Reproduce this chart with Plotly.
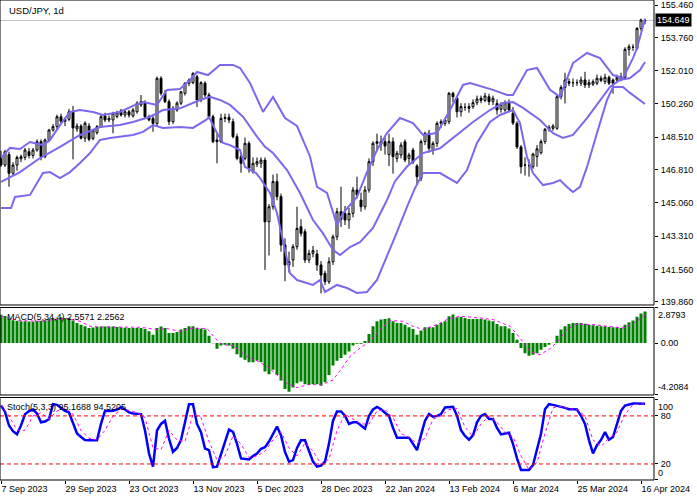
import plotly.graph_objects as go
from plotly.subplots import make_subplots

# ---------------- data ----------------
open_ = [147.45, 147.05, 147.60, 146.62, 147.05, 147.38, 147.45, 147.75, 147.55, 147.84,
 148.28, 147.49, 148.37, 148.89, 149.07, 149.59, 149.35, 149.45, 149.85, 148.95,
 149.10, 148.46, 149.10, 148.45, 148.75, 149.07, 149.63, 149.42, 149.42, 149.60,
 149.91, 149.68, 149.85, 149.63, 149.85, 150.21, 150.30, 149.59, 149.50, 149.24,
 151.61, 150.82, 150.38, 149.33, 149.94, 150.30, 150.82, 151.35, 151.38, 151.69,
 150.47, 151.35, 150.73, 149.59, 148.37, 148.28, 149.50, 149.56, 149.33, 148.54,
 147.49, 147.40, 148.19, 146.70, 147.10, 147.14, 147.31, 144.07, 144.86, 146.18,
 145.39, 142.85, 141.80, 142.06, 142.76, 143.81, 143.55, 142.06, 142.41, 142.38,
 141.80, 141.36, 140.92, 141.97, 143.28, 144.60, 144.50, 144.16, 144.51, 145.74,
 145.21, 144.86, 145.74, 147.23, 148.19, 148.28, 148.28, 147.60, 148.28, 147.40,
 147.58, 148.28, 147.40, 147.84, 147.00, 146.35, 148.28, 148.72, 147.84, 148.19,
 149.24, 149.24, 149.33, 150.82, 150.56, 149.85, 150.08, 150.03, 150.12, 150.33,
 150.56, 150.45, 150.64, 150.38, 150.29, 149.98, 149.94, 150.33, 149.77, 149.24,
 148.00, 147.05, 147.02, 146.96, 147.50, 147.70, 148.28, 148.93, 148.98, 148.98,
 150.64, 151.13, 151.43, 151.38, 151.38, 151.35, 151.52, 151.26, 151.30, 151.35,
 151.61, 151.43, 151.66, 151.52, 151.52, 151.56, 151.66, 153.13, 153.24, 153.18,
 154.23, 154.62]
high_ = [147.80, 147.85, 147.75, 147.20, 147.55, 147.60, 147.95, 147.95, 147.95, 148.40,
 148.40, 148.45, 148.95, 149.20, 149.70, 149.75, 149.55, 150.00, 150.16, 149.25,
 149.20, 149.35, 149.25, 148.95, 149.15, 149.70, 149.80, 149.65, 149.85, 149.90,
 150.00, 149.95, 149.95, 150.05, 150.40, 150.73, 150.45, 149.70, 149.65, 151.70,
 151.72, 151.00, 150.50, 150.15, 150.40, 150.95, 151.40, 151.60, 151.92, 151.80,
 151.45, 151.45, 150.85, 149.70, 148.70, 149.75, 149.75, 149.75, 149.50, 148.70,
 147.70, 148.50, 148.30, 147.45, 147.45, 147.45, 147.45, 145.00, 146.55, 146.60,
 145.55, 143.20, 142.50, 142.90, 144.86, 144.20, 143.70, 142.60, 142.80, 142.60,
 142.00, 141.50, 142.20, 143.40, 144.80, 145.91, 144.90, 144.80, 145.90, 146.44,
 145.60, 145.95, 147.40, 148.30, 148.70, 148.60, 148.60, 148.70, 148.50, 147.80,
 148.25, 148.40, 147.70, 147.95, 147.10, 148.40, 148.80, 148.90, 148.30, 149.35,
 149.45, 149.50, 150.89, 150.90, 150.65, 150.30, 150.30, 150.30, 150.50, 150.70,
 150.70, 150.85, 150.80, 150.70, 150.50, 150.35, 150.45, 150.50, 150.10, 149.35,
 148.10, 147.45, 147.35, 147.70, 148.10, 148.40, 149.00, 149.15, 149.20, 150.75,
 151.25, 151.90, 151.60, 151.60, 151.55, 151.70, 151.95, 151.55, 151.55, 151.80,
 151.75, 151.85, 151.75, 151.60, 151.80, 151.90, 153.24, 153.40, 153.40, 154.30,
 154.75, 154.72]
low_ = [146.95, 146.95, 145.91, 146.50, 146.75, 147.20, 147.30, 147.40, 147.40, 147.75,
 147.30, 147.40, 148.25, 148.80, 148.95, 149.20, 149.10, 149.35, 147.35, 148.80,
 148.40, 148.26, 148.30, 148.35, 148.65, 149.00, 149.30, 149.30, 148.72, 149.50,
 149.60, 149.55, 149.55, 149.55, 149.75, 150.10, 149.50, 149.35, 148.80, 149.10,
 150.70, 150.30, 149.15, 149.20, 149.85, 150.20, 150.70, 151.20, 151.30, 150.10,
 150.35, 150.60, 149.45, 148.20, 147.14, 148.20, 149.30, 149.25, 148.45, 147.30,
 146.65, 147.30, 146.65, 146.60, 146.95, 146.90, 141.54, 142.30, 144.70, 145.20,
 142.50, 140.95, 141.40, 141.70, 142.60, 143.30, 141.90, 141.90, 142.20, 141.50,
 140.31, 140.75, 140.80, 141.80, 143.10, 143.80, 143.90, 143.70, 144.30, 145.30,
 144.60, 144.70, 145.60, 147.00, 147.80, 147.80, 147.60, 147.00, 146.60, 147.20,
 147.40, 147.20, 147.10, 147.10, 146.00, 146.20, 148.10, 147.70, 147.60, 148.00,
 149.00, 149.10, 149.20, 150.35, 149.55, 149.60, 149.90, 149.80, 150.00, 150.20,
 150.30, 150.35, 150.20, 150.20, 149.70, 149.80, 149.85, 149.85, 149.15, 147.90,
 146.60, 146.50, 146.44, 146.85, 146.96, 147.60, 148.15, 148.80, 148.85, 148.90,
 150.50, 150.29, 151.20, 151.15, 151.20, 151.20, 151.10, 151.10, 151.20, 151.25,
 151.40, 151.30, 151.25, 150.80, 151.40, 151.45, 151.55, 152.80, 153.05, 153.10,
 154.10, 154.45]
close_ = [147.05, 147.75, 146.62, 147.05, 147.45, 147.49, 147.84, 147.55, 147.84, 148.28,
 147.49, 148.37, 148.89, 149.07, 149.59, 149.35, 149.45, 149.85, 149.00, 149.10,
 148.46, 149.25, 148.40, 148.89, 149.07, 149.59, 149.42, 149.50, 149.77, 149.80,
 149.68, 149.85, 149.68, 149.94, 150.30, 150.38, 149.59, 149.42, 149.24, 151.61,
 150.82, 150.38, 149.33, 150.03, 150.30, 150.90, 151.35, 151.52, 151.87, 150.47,
 151.38, 150.73, 149.59, 148.28, 148.28, 149.50, 149.55, 149.42, 148.54, 147.40,
 147.14, 148.19, 146.88, 147.14, 147.23, 147.31, 144.07, 144.86, 146.18, 145.39,
 142.85, 141.80, 141.97, 142.76, 143.72, 143.46, 142.06, 142.41, 142.55, 141.80,
 141.27, 140.92, 141.97, 143.28, 144.60, 144.20, 144.16, 144.51, 145.74, 145.48,
 144.86, 145.74, 147.23, 148.19, 148.28, 148.15, 148.05, 148.28, 147.49, 147.67,
 148.10, 147.31, 147.58, 147.20, 146.44, 148.28, 148.72, 147.93, 148.19, 149.24,
 149.33, 149.42, 150.82, 150.64, 149.85, 150.12, 150.08, 150.12, 150.33, 150.52,
 150.45, 150.68, 150.38, 150.56, 149.94, 150.24, 150.33, 149.94, 149.26, 148.00,
 146.96, 147.05, 147.02, 147.63, 147.90, 148.28, 148.93, 149.03, 149.10, 150.64,
 151.13, 151.52, 151.35, 151.38, 151.38, 151.52, 151.26, 151.38, 151.43, 151.61,
 151.50, 151.66, 151.35, 151.35, 151.66, 151.69, 153.13, 153.27, 153.24, 154.23,
 154.67, 154.649]

# Bollinger bands, read at sample bars
upper_i = [0, 2.25, 4.75, 7.25, 10.5, 12.25, 14.75, 17.25, 19.75, 23,
 25.5, 29.75, 33.5, 35.5, 39, 41.5, 44.75, 47.25, 49, 51.75,
 54.75, 58, 59.75, 62.25, 65.5, 68, 71, 74, 77.25, 79,
 81.5, 84, 85.5, 89, 91.5, 94, 96.5, 99.75, 103, 105.5,
 109, 112.25, 115.5, 117.25, 123, 126.5, 128, 131.5, 134, 137.25,
 139.75, 143, 146.5, 149.75, 153, 155.5, 158, 159, 160, 161]
upper_v = [147.42, 147.95, 147.89, 148.26, 148.10, 148.37, 149.15, 149.84, 149.94, 149.84,
 149.68, 149.84, 150.21, 150.36, 150.21, 151.00, 151.05, 151.52, 151.94, 151.78,
 152.31, 152.31, 152.15, 151.36, 149.84, 150.63, 149.52, 149.10, 147.50, 145.90,
 145.58, 143.90, 144.53, 145.37, 146.68, 147.84, 148.73, 149.52, 149.26, 148.63,
 148.73, 149.94, 151.26, 151.36, 151.00, 150.73, 150.73, 152.04, 152.15, 151.00,
 150.63, 152.41, 152.94, 152.67, 151.78, 151.62, 152.67, 153.20, 153.95, 154.75]
mid_i = [0, 4.75, 9.75, 14.75, 19.75, 24.75, 29.75, 33, 37.25, 40.5,
 44.75, 49.75, 52.25, 54.75, 57.25, 60.5, 64, 66, 68, 71.5,
 74.75, 78, 80.5, 83, 84.75, 87.25, 89.75, 93, 96.5, 98.5,
 101.5, 105.5, 109.75, 114, 118, 122.25, 125.5, 128, 130.5, 134.75,
 138, 140.5, 143, 146.5, 149.75, 152.25, 154.75, 157.25, 159.75, 161]
mid_v = [146.16, 146.68, 147.42, 148.00, 148.63, 149.05, 149.15, 149.31, 149.59, 149.94,
 150.03, 150.47, 150.64, 150.47, 150.21, 149.59, 148.54, 148.01, 147.68, 146.79,
 145.58, 144.16, 143.46, 142.59, 142.32, 142.74, 143.00, 143.74, 145.21, 146.20,
 146.97, 147.68, 147.93, 148.63, 149.31, 149.94, 150.31, 150.36, 150.05, 149.42,
 148.73, 148.47, 148.63, 149.52, 150.47, 151.15, 151.52, 151.62, 152.04, 152.46]
lower_i = [0, 2.5, 3.5, 7.25, 10.5, 12.25, 14.75, 17.25, 19.75, 22.25,
 24.75, 27.25, 33, 35.5, 38, 40.5, 44.75, 48, 51.25, 52,
 54, 55.5, 57.25, 59.75, 61, 63.75, 64.75, 67.25, 69, 70.5,
 72.25, 74, 76.5, 78, 79.75, 81, 84, 86.5, 89, 91.5,
 94, 96.5, 98.5, 101.5, 103.5, 105.5, 109.75, 114, 116.5, 119,
 122.25, 124.75, 128, 129.75, 131.5, 133, 135.5, 138, 139.75, 141.5,
 143, 144.75, 146.5, 149, 151.5, 153, 155.5, 157.25, 159.75, 161]
lower_v = [144.79, 144.79, 145.37, 145.48, 146.63, 146.68, 146.37, 146.68, 147.16, 147.68,
 148.37, 148.47, 148.63, 148.79, 149.15, 149.00, 149.05, 149.00, 149.42, 149.57,
 148.73, 148.21, 148.10, 147.84, 146.96, 146.63, 146.37, 145.58, 144.53, 143.11,
 141.36, 141.01, 140.85, 140.75, 141.01, 140.38, 140.75, 140.59, 140.33, 140.38,
 141.01, 142.22, 143.28, 144.85, 145.84, 146.63, 146.63, 146.11, 146.79, 148.21,
 149.31, 149.68, 149.94, 149.26, 147.47, 146.63, 146.00, 146.11, 146.26, 145.90,
 145.63, 145.90, 146.95, 148.73, 150.47, 151.15, 151.15, 150.84, 150.47, 150.26]

# MACD(5,34,4) histogram per bar and signal line read at sample bars
macd_hist = [2.30, 2.20, 1.96, 1.85, 1.80, 1.76, 1.76, 1.74, 1.72, 1.76,
 1.80, 1.85, 1.95, 2.01, 1.98, 2.09, 2.03, 2.03, 1.82, 1.63,
 1.49, 1.36, 1.22, 1.26, 1.30, 1.33, 1.33, 1.33, 1.33, 1.30,
 1.28, 1.24, 1.22, 1.22, 1.24, 1.22, 1.14, 0.95, 0.68, 1.22,
 1.33, 1.22, 0.81, 0.81, 0.89, 1.09, 1.22, 1.36, 1.36, 1.22,
 1.17, 1.09, 0.59, -0.02, -0.46, -0.19, -0.14, -0.19, -0.46, -0.90,
 -1.17, -1.36, -1.55, -1.55, -1.44, -1.55, -2.31, -2.53, -2.17, -2.58,
 -3.04, -3.72, -3.94, -3.61, -3.26, -3.12, -3.34, -3.39, -3.34, -3.34,
 -3.45, -3.18, -2.58, -1.82, -1.44, -1.22, -0.95, -0.68, -0.19, -0.06,
 -0.06, 0.17, 0.73, 1.36, 1.76, 1.90, 1.95, 2.01, 1.76, 1.63,
 1.63, 1.49, 1.28, 1.14, 0.68, 1.01, 1.28, 1.28, 1.28, 1.49,
 1.63, 1.76, 2.17, 2.31, 2.09, 2.12, 2.03, 1.95, 1.95, 1.95,
 1.95, 1.90, 1.82, 1.76, 1.55, 1.36, 1.36, 1.17, 0.81, 0.27,
 -0.41, -0.82, -1.03, -0.95, -0.82, -0.54, -0.33, -0.14, 0.02, 0.59,
 1.09, 1.36, 1.55, 1.63, 1.63, 1.63, 1.57, 1.49, 1.44, 1.41,
 1.36, 1.36, 1.30, 1.28, 1.28, 1.22, 1.49, 1.68, 1.82, 2.12,
 2.39, 2.5571]
signal_i = [0, 4.75, 9.75, 13.5, 16.5, 19.75, 22.25, 24.75, 29.75, 34.75,
 39, 41.5, 44.75, 48, 51.5, 53.5, 55.25, 58, 61.5, 64,
 66.5, 69, 71.5, 74, 77.25, 80.5, 83, 84.75, 87.25, 89.75,
 92.25, 94.75, 97.25, 100.5, 103, 105.5, 109, 111.5, 114.75, 119.75,
 123, 127.25, 129.75, 132.25, 134.75, 137.25, 139.25, 141.5, 144, 148,
 151.5, 155.5, 158, 161]
signal_v = [2.17, 1.82, 1.76, 1.90, 2.00, 1.76, 1.36, 1.30, 1.30, 1.28,
 1.09, 1.17, 0.95, 1.22, 1.17, 0.41, -0.14, -0.19, -1.09, -1.44,
 -1.90, -2.58, -3.26, -3.61, -3.34, -3.34, -2.99, -2.24, -1.09, -0.41,
 0.14, 1.09, 1.82, 1.76, 1.36, 1.09, 1.49, 1.90, 2.17, 2.03,
 1.90, 1.36, 0.41, -0.68, -0.95, -0.46, 0.14, 1.09, 1.55, 1.49,
 1.36, 1.22, 1.55, 2.2562]

# Stochastic(5,3,3): %K per bar, %D read every second bar
stoch_k = [93, 85, 68, 61, 57, 68, 82, 86, 88, 83,
 72, 73, 76, 94.6, 93.8, 90, 86.4, 84.3, 70, 58,
 53.6, 50, 49.5, 49.5, 49.5, 70, 86.4, 86, 86.4, 88,
 90.5, 88, 84.3, 83, 82.3, 82.3, 61.8, 33, 16.7, 61.8,
 70, 74, 51.5, 35, 40, 50, 72, 94.6, 94.6, 70,
 59.8, 39.3, 37.2, 16, 16.7, 32, 50, 63, 60, 45,
 27, 26, 25.7, 29.8, 33, 39, 41, 48, 58, 66.7,
 55.7, 35, 22.9, 24.9, 40, 49.5, 49.5, 37, 22.9, 16.7,
 18, 22.9, 45.4, 74, 85.6, 85.6, 80.2, 70, 72, 72,
 68, 64, 80, 88, 91.3, 88.4, 84, 80, 65, 52.8,
 52.8, 52.8, 52.8, 45, 37.2, 56, 74, 82.3, 79, 80,
 82.3, 90.5, 91.3, 91.3, 80.2, 62, 55, 50.3, 55.7, 72,
 80, 82.3, 76.1, 76.1, 65, 56.9, 58, 59, 45, 27,
 12.6, 12.6, 12.6, 18.8, 37.2, 57.7, 88.4, 94.6, 93.8, 93,
 91.3, 90, 88.4, 88.4, 88, 80.2, 70, 49.5, 33.1, 43.4,
 50, 59.8, 50.3, 53.6, 70, 86.4, 93, 94.6, 95.4, 95.4,
 95.2, 95.1688]
stoch_d_i = list(range(0, 161, 2)) + [161]
stoch_d = [94, 80, 62, 62, 80, 84, 76, 86, 90, 82,
 62, 52, 50, 62, 80, 88, 87, 84, 78, 40,
 38, 62, 50, 48, 82, 78, 48, 25, 30, 55,
 45, 28, 30, 36, 50, 60, 40, 30, 46, 36,
 20, 26, 62, 82, 76, 70, 70, 86, 88, 78,
 58, 53, 46, 52, 76, 80, 88, 89, 66, 54,
 70, 80, 72, 60, 54, 30, 13, 22, 58, 90,
 92, 89, 88, 80, 50, 42, 52, 60, 82, 94,
 95, 94.5205]

date_labels = ["7 Sep 2023", "29 Sep 2023", "23 Oct 2023", "13 Nov 2023", "5 Dec 2023",
               "28 Dec 2023", "22 Jan 2024", "13 Feb 2024", "6 Mar 2024", "25 Mar 2024",
               "16 Apr 2024"]
price_ticks = [155.46, 153.76, 152.01, 150.26, 148.51, 146.81, 145.06, 143.31, 141.56, 139.86]
last_price = 154.649
macd_max, macd_min = 2.8793, -4.2084

# ---------------- figure ----------------
n = len(close_)
idx = list(range(n))
date_pos = list(range(0, n, 16))[:len(date_labels)]

FONT = "Liberation Sans"
FS = 9
BAND = "#7B68EE"

fig = make_subplots(rows=3, cols=1, shared_xaxes=True, vertical_spacing=0)

fig.add_trace(go.Candlestick(
    x=idx, open=open_, high=high_, low=low_, close=close_,
    increasing=dict(line=dict(color="black", width=1), fillcolor="white"),
    decreasing=dict(line=dict(color="black", width=1), fillcolor="black"),
    whiskerwidth=0, hoverinfo="skip"), row=1, col=1)
for bx, by in [(upper_i, upper_v), (mid_i, mid_v), (lower_i, lower_v)]:
    fig.add_trace(go.Scatter(x=bx, y=by, mode="lines", hoverinfo="skip",
                             line=dict(color=BAND, width=2)), row=1, col=1)

fig.add_trace(go.Bar(x=idx, y=macd_hist, hoverinfo="skip",
                     marker=dict(color="#008000", line=dict(width=0))), row=2, col=1)
fig.add_trace(go.Scatter(x=signal_i, y=signal_v, mode="lines", hoverinfo="skip",
                         line=dict(color="#FF00FF", width=1, dash="dot")), row=2, col=1)

fig.add_trace(go.Scatter(x=idx, y=stoch_k, mode="lines", hoverinfo="skip",
                         line=dict(color="#0000FF", width=2.5)), row=3, col=1)
fig.add_trace(go.Scatter(x=stoch_d_i, y=stoch_d, mode="lines", hoverinfo="skip",
                         line=dict(color="#FF00FF", width=1, dash="dot")), row=3, col=1)

fig.update_layout(
    width=697, height=497,
    margin=dict(l=0, r=43, t=0, b=17, pad=0, autoexpand=False),
    paper_bgcolor="white", plot_bgcolor="white",
    showlegend=False, bargap=0.25,
    font=dict(family=FONT, size=FS, color="black"),
)

xr = [-0.25, n + 1.25]
for r in (1, 2, 3):
    fig.update_xaxes(range=xr, showgrid=False, zeroline=False, showline=False,
                     automargin=False, rangeslider_visible=False, row=r, col=1)
fig.update_xaxes(showticklabels=False, ticks="", row=1, col=1)
fig.update_xaxes(showticklabels=False, ticks="", row=2, col=1)
fig.update_xaxes(tickmode="array", tickvals=date_pos, ticktext=date_labels,
                 ticks="outside", ticklen=3, tickcolor="black",
                 ticklabelposition="outside right", ticklabelstandoff=0,
                 tickfont=dict(family=FONT, size=FS, color="black"), row=3, col=1)

ycommon = dict(side="right", ticks="outside", ticklen=3, tickcolor="black",
               showgrid=False, zeroline=False, automargin=False,
               ticklabelstandoff=1, tickfont=dict(family=FONT, size=FS, color="black"))
fig.update_layout(
    yaxis=dict(domain=[0.3646, 1.0], range=[139.696, 155.723],
               tickmode="array", tickvals=price_ticks,
               ticktext=[f"{v:.3f}" for v in price_ticks], **ycommon),
    yaxis2=dict(domain=[0.1771, 0.3594], range=[macd_min, macd_max],
                tickmode="array", tickvals=[macd_max, 0, macd_min], ticktext=["", "0.00", ""],
                **ycommon),
    yaxis3=dict(domain=[0.0, 0.1719], range=[0, 103],
                tickmode="array", tickvals=[100, 80, 20, 0], ticktext=["", "80", "20", ""],
                **ycommon),
)

# stochastic levels
for lvl in (80, 20):
    fig.add_shape(type="line", xref="x3 domain", yref="y3", x0=0, x1=1, y0=lvl, y1=lvl,
                  line=dict(color="red", width=1, dash="4px,3px"))
# last price line
fig.add_shape(type="line", xref="x domain", yref="y", x0=0, x1=1, y0=last_price, y1=last_price,
              line=dict(color="#C0C0C0", width=1), layer="below")
# panel borders
for xr_, yr_ in (("x domain", "y domain"), ("x2 domain", "y2 domain"), ("x3 domain", "y3 domain")):
    fig.add_shape(type="rect", xref=xr_, yref=yr_, x0=0, x1=1, y0=0, y1=1,
                  line=dict(color="black", width=1))

def txt(text, x, y, **kw):
    fig.add_annotation(text=text, x=x, y=y, showarrow=False,
                       font=dict(family=FONT, size=kw.pop("size", FS),
                                 color=kw.pop("color", "black")), **kw)

txt("USD/JPY, 1d", 0.011, (480 - 10) / 480, xref="paper", yref="paper",
    xanchor="left", yanchor="middle", size=9.5)
txt(f"MACD(5,34,4) {macd_hist[-1]:.4f} {signal_v[-1]:.4f}", 0.008, (480 - 317) / 480,
    xref="paper", yref="paper", xanchor="left", yanchor="middle")
txt(f"Stoch(5,3,3) {stoch_k[-1]:.4f} {stoch_d[-1]:.4f}", 0.008, (480 - 407) / 480,
    xref="paper", yref="paper", xanchor="left", yanchor="middle")
txt(f"{last_price:.3f}", 1.0, last_price, xref="paper", yref="y", xanchor="left",
    yanchor="middle", xshift=1, bgcolor="black", borderpad=1, color="white")
txt(f"{macd_max:.4f}", 1.0, macd_max, xref="paper", yref="y2", xanchor="left",
    yanchor="top", xshift=2, yshift=-1)
txt(f"{macd_min:.4f}", 1.0, macd_min, xref="paper", yref="y2", xanchor="left",
    yanchor="bottom", xshift=2, yshift=1)
txt("100", 1.0, 100, xref="paper", yref="y3", xanchor="left", yanchor="top", xshift=2)
txt("0", 1.0, 0, xref="paper", yref="y3", xanchor="left", yanchor="bottom", xshift=2)

fig.write_html("out.html",
               config={"displayModeBar": False, "staticPlot": True},
               post_script="document.body.style.margin='0px';"
                           "document.body.style.overflow='hidden';")
